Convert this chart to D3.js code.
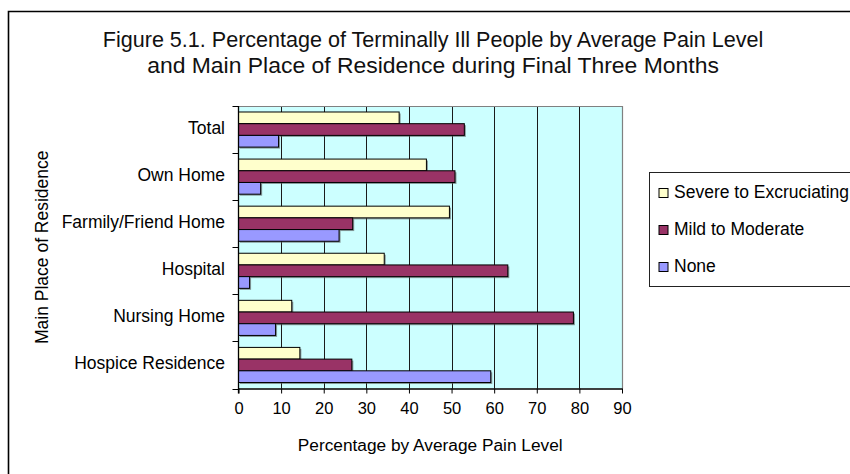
<!DOCTYPE html>
<html><head><meta charset="utf-8">
<script src="https://cdn.jsdelivr.net/npm/d3@7"></script>
<style>
html,body{margin:0;padding:0;background:#fff;}
svg{display:block;}
</style></head>
<body>
<svg id="chart" width="850" height="474"></svg>
<script>
const titleLines = ["Figure 5.1. Percentage of Terminally Ill People by Average Pain Level",
                    "and Main Place of Residence during Final Three Months"];
const categories = ["Total","Own Home","Farmily/Friend Home","Hospital","Nursing Home","Hospice Residence"];
const seriesNames = ["Severe to Excruciating","Mild to Moderate","None"];
const severe = [37.7, 44.1, 49.5, 34.2, 12.5, 14.4];
const mild   = [53.0, 50.8, 26.8, 63.2, 78.6, 26.6];
const none   = [9.4, 5.2, 23.6, 2.6, 8.7, 59.2];
const xTicks = [0,10,20,30,40,50,60,70,80,90];
const xTitle = "Percentage by Average Pain Level";
const yTitle = "Main Place of Residence";
const colors = ["#FFFFCC","#993366","#9999FF"];

const seriesValues = [severe, mild, none];
const svg = d3.select("#chart");
const font = "'Liberation Sans', Arial, sans-serif";

const L = 238.5, R = 622, T = 106, B = 388.5;

// outer frame
svg.append("path").attr("d", `M8.5,480 V11.5 H860`).attr("fill","none")
  .attr("stroke","#000").attr("stroke-width",1.6);

// title: Arial-like font condensed horizontally to the measured width
const tg = svg.append("g");
const targetW = [661, 572];
const baselines = [46.5, 72.5];
const cx = 433;
titleLines.forEach((t,i)=>{
  const el = tg.append("text").attr("x",0).attr("y",0)
    .attr("text-anchor","middle").attr("font-family",font).attr("font-size",21.5)
    .attr("fill","#111").text(t);
  const w = el.node().getComputedTextLength();
  const sx = w>0 ? targetW[i]/w : 1;
  el.attr("transform",`translate(${cx},${baselines[i]}) scale(${sx},1)`);
});

const x = d3.scaleLinear().domain([0,90]).range([L,R]);
const y0 = d3.scaleBand().domain(categories).range([T,B]).paddingInner(0).paddingOuter(0);
const y1 = d3.scaleBand().domain(seriesNames).range([-1.5, y0.bandwidth()+1.5]).paddingInner(0).paddingOuter(0.64);

// plot background
svg.append("rect").attr("x",L).attr("y",T).attr("width",R-L).attr("height",B-T).attr("fill","#CCFFFF");

// gridlines
svg.append("g").selectAll("line").data(xTicks.filter(d=>d>0 && d<90)).join("line")
  .attr("x1",d=>Math.round(x(d))+0.5).attr("x2",d=>Math.round(x(d))+0.5)
  .attr("y1",T).attr("y2",B).attr("stroke","#1a1a1a").attr("stroke-width",1);

// plot border (top, right) gray
svg.append("path").attr("d",`M${L},${T+0.5} H${R+0.5} V${B}`).attr("fill","none")
  .attr("stroke","#808080").attr("stroke-width",1.2);

// bars
const groups = svg.append("g").selectAll("g").data(categories).join("g")
  .attr("transform",d=>`translate(0,${y0(d)})`);
groups.each(function(cat,ci){
  const g = d3.select(this);
  seriesNames.forEach((s,si)=>{
    const v = seriesValues[si][ci];
    g.append("rect").attr("x",x(0)+1.5).attr("y",y1(s)+1.5)
      .attr("width",x(v)-x(0)).attr("height",y1.bandwidth())
      .attr("fill","#555").attr("opacity",0.6);
    g.append("rect").attr("x",x(0)).attr("y",y1(s))
      .attr("width",x(v)-x(0)).attr("height",y1.bandwidth())
      .attr("fill",colors[si]).attr("stroke","#000").attr("stroke-width",1);
  });
});

// x axis
const xAxis = d3.axisBottom(x).tickValues(xTicks).tickSize(5).tickPadding(9).tickSizeOuter(0);
const xg = svg.append("g").attr("transform",`translate(0,${B})`).call(xAxis);
xg.select(".domain").attr("stroke","#000").attr("stroke-width",1.3);
xg.selectAll(".tick line").attr("stroke","#000");
xg.selectAll(".tick text").attr("font-family",font).attr("font-size",16.5).attr("fill","#000");

// y axis: ticks at category boundaries
svg.append("line").attr("x1",L).attr("x2",L).attr("y1",T).attr("y2",B+5)
  .attr("stroke","#000").attr("stroke-width",1.3);
const bounds = categories.map(c=>y0(c)).concat([B]);
svg.append("g").selectAll("line").data(bounds).join("line")
  .attr("x1",L-6).attr("x2",L).attr("y1",d=>Math.round(d)+0.5).attr("y2",d=>Math.round(d)+0.5)
  .attr("stroke","#000").attr("stroke-width",1);
svg.append("g").selectAll("text").data(categories).join("text")
  .attr("x",225).attr("y",d=>y0(d)+y0.bandwidth()/2+4.5)
  .attr("text-anchor","end").attr("font-family",font).attr("font-size",17.5).attr("fill","#000")
  .text(d=>d);

// axis titles
svg.append("text").attr("x",(L+R)/2).attr("y",450.5).attr("text-anchor","middle")
  .attr("font-family",font).attr("font-size",17.3).attr("fill","#000").text(xTitle);
svg.append("text").attr("transform",`translate(48,${(T+B)/2}) rotate(-90)`).attr("text-anchor","middle")
  .attr("font-family",font).attr("font-size",17.5).attr("fill","#000").text(yTitle);

// legend
svg.append("rect").attr("x",649.5).attr("y",172.5).attr("width",220).attr("height",114)
  .attr("fill","#fff").attr("stroke","#222").attr("stroke-width",1);
const lg = svg.append("g").selectAll("g").data(seriesNames).join("g")
  .attr("transform",(d,i)=>`translate(0,${197.5+i*37})`);
lg.append("rect").attr("x",659).attr("y",-9).attr("width",9).attr("height",9)
  .attr("fill",(d,i)=>colors[i]).attr("stroke","#000").attr("stroke-width",1);
lg.append("text").attr("x",674).attr("y",0).attr("font-family",font).attr("font-size",17.5)
  .attr("fill","#000").text(d=>d);
</script>
</body></html>
